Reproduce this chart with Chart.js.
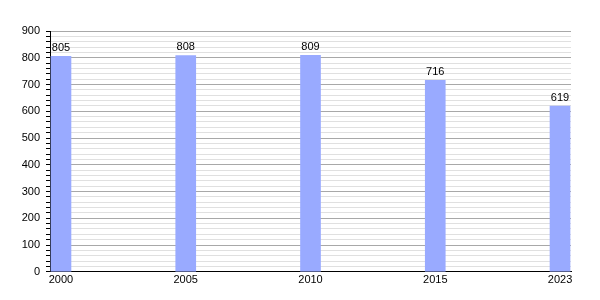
<!DOCTYPE html>
<html>
<head>
<meta charset="utf-8">
<script src="https://cdn.jsdelivr.net/npm/chart.js@4/dist/chart.umd.min.js"></script>
<style>
  html, body { margin: 0; padding: 0; background: #fff; }
  #wrap { width: 600px; height: 300px; }
</style>
</head>
<body>
<div id="wrap"><canvas id="chart"></canvas></div>
<script>
// data
const years = ["2000", "2005", "2010", "2015", "2023"];
const population = [805, 808, 809, 716, 619];
const yTicks = [0, 100, 200, 300, 400, 500, 600, 700, 800, 900];

const ctx = document.getElementById("chart");

// bars sit on positions 0..4 of a linear x axis, labelled with the years
const points = years.map((y, i) => ({ x: i, y: population[i] }));

// writes the value above each bar
const valueLabels = {
  id: "valueLabels",
  afterDatasetsDraw(chart) {
    const c = chart.ctx;
    const meta = chart.getDatasetMeta(0);
    c.save();
    c.font = "11px 'Liberation Sans', Arial, sans-serif";
    c.fillStyle = "#000";
    c.textAlign = "center";
    c.textBaseline = "bottom";
    meta.data.forEach((bar, i) => {
      c.fillText(String(population[i]), bar.x, bar.y - 3);
    });
    c.restore();
  },
};

new Chart(ctx, {
  type: "bar",
  data: {
    datasets: [
      {
        data: points,
        backgroundColor: "#99aaff",
        borderWidth: 0,
        barThickness: 20,
      },
    ],
  },
  options: {
    responsive: true,
    maintainAspectRatio: false,
    animation: false,
    layout: { padding: { top: 31, right: 29, bottom: 11, left: 0 } },
    plugins: {
      legend: { display: false },
      tooltip: { enabled: false },
    },
    scales: {
      x: {
        type: "linear",
        offset: false,
        min: -0.088,
        max: 4.088,
        afterBuildTicks(axis) {
          axis.ticks = years.map((y, i) => ({ value: i }));
        },
        ticks: {
          callback: (v) => years[v],
          color: "#000",
          font: { family: "'Liberation Sans', Arial, sans-serif", size: 11 },
          maxRotation: 0,
          padding: 2,
        },
        grid: { display: false, drawTicks: false, offset: false },
        border: { color: "#000", width: 1 },
      },
      y: {
        min: 0,
        max: 900,
        afterBuildTicks(axis) {
          const t = [];
          for (let v = 0; v <= 900; v += 20) t.push({ value: v });
          axis.ticks = t;
        },
        afterFit(axis) {
          axis.width = 50;
        },
        ticks: {
          callback: (v) => (yTicks.includes(v) ? String(v) : ""),
          color: "#000",
          font: { family: "'Liberation Sans', Arial, sans-serif", size: 11 },
          padding: 6,
          autoSkip: false,
        },
        grid: {
          color: (c) => (c.tick && c.tick.value % 100 === 0 ? "#a8a8a8" : "#e0e0e0"),
          tickColor: "#000",
          tickLength: 4,
          lineWidth: 1,
        },
        border: { color: "#000", width: 1 },
      },
    },
  },
  plugins: [valueLabels],
});
</script>
</body>
</html>
